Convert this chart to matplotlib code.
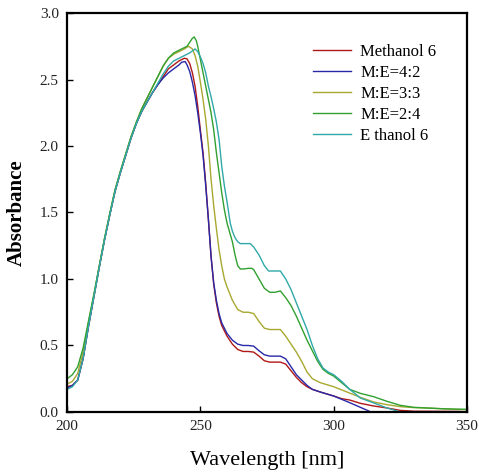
import numpy as np
import matplotlib
matplotlib.use("Agg")
import matplotlib.pyplot as plt

plt.rcParams['font.family'] = ['Liberation Serif', 'DejaVu Serif']

# UV-Vis spectra (wavelength nm, absorbance)
methanol_x = [200, 202, 204, 206, 207, 208, 210, 212, 214, 216, 218, 220, 222, 224, 226, 228, 230, 232, 234, 236, 238,
              240, 242, 244, 245, 246, 247, 248, 249, 250, 251, 252, 253, 254, 255, 256, 257, 258, 260, 262, 264,
              266, 268, 270, 272, 274, 276, 278, 280, 282, 284, 286, 288, 290, 292, 295, 300, 303, 306, 310, 315,
              320, 325, 330, 340, 347, 350]
methanol_y = [0.19, 0.20, 0.24, 0.40, 0.52, 0.64, 0.86, 1.08, 1.29, 1.48, 1.66, 1.80, 1.93, 2.06, 2.17, 2.26, 2.33, 2.40, 2.46, 2.52, 2.58,
              2.61, 2.64, 2.66, 2.655, 2.62, 2.55, 2.45, 2.30, 2.12, 1.95, 1.72, 1.45, 1.17, 0.96, 0.82, 0.72, 0.65, 0.57, 0.51, 0.47,
              0.455, 0.455, 0.45, 0.42, 0.385, 0.375, 0.375, 0.375, 0.36, 0.31, 0.26, 0.22, 0.19, 0.17, 0.15, 0.12, 0.10, 0.09, 0.065, 0.045,
              0.03, 0.012, 0.006, 0.005, 0.004, 0.0]

me42_x = [200, 202, 204, 206, 207, 208, 210, 212, 214, 216, 218, 220, 222, 224, 226, 228, 230, 232, 234, 236, 238,
          240, 242, 243, 244.3, 245, 246, 247, 248, 249, 250, 251, 252, 253, 254, 255, 256, 257, 258, 260, 262, 264,
          266, 268, 270, 272, 274, 276, 278, 280, 282, 284, 286, 288, 290, 292, 295, 300, 303, 306, 310, 314]
me42_y = [0.18, 0.20, 0.24, 0.40, 0.52, 0.64, 0.86, 1.08, 1.29, 1.48, 1.66, 1.80, 1.93, 2.06, 2.17, 2.26, 2.33, 2.40, 2.46, 2.51, 2.55,
          2.58, 2.61, 2.63, 2.635, 2.61, 2.56, 2.48, 2.38, 2.25, 2.10, 1.93, 1.70, 1.45, 1.17, 0.97, 0.84, 0.74, 0.67, 0.59, 0.54, 0.51,
          0.50, 0.50, 0.495, 0.46, 0.43, 0.42, 0.42, 0.42, 0.40, 0.34, 0.28, 0.24, 0.20, 0.17, 0.15, 0.12, 0.095, 0.07, 0.035, 0.0]

me33_x = [200, 202, 204, 206, 208, 210, 212, 214, 216, 218, 220, 222, 224, 226, 228, 230, 232, 234, 236, 238,
          240, 242, 244, 245.6, 247, 248, 249, 250, 251, 252, 253, 254, 255, 256, 257, 258, 259, 260, 262, 264,
          266, 268, 270, 272, 274, 276, 278, 280, 282, 284, 286, 288, 290, 292, 295, 300, 305, 310, 315,
          320, 325, 330, 335, 340, 345, 350]
me33_y = [0.21, 0.23, 0.29, 0.45, 0.67, 0.87, 1.09, 1.30, 1.49, 1.67, 1.81, 1.94, 2.07, 2.18, 2.28, 2.36, 2.44, 2.52, 2.60, 2.66,
          2.69, 2.71, 2.73, 2.75, 2.73, 2.68, 2.60, 2.48, 2.35, 2.20, 2.00, 1.75, 1.55, 1.38, 1.22, 1.10, 1.00, 0.94, 0.84, 0.77,
          0.75, 0.75, 0.74, 0.68, 0.63, 0.62, 0.62, 0.62, 0.57, 0.51, 0.45, 0.38, 0.30, 0.25, 0.22, 0.19, 0.15, 0.11, 0.075,
          0.055, 0.04, 0.033, 0.03, 0.025, 0.02, 0.017]

me24_x = [200, 202, 204, 206, 208, 210, 212, 214, 216, 218, 220, 222, 224, 226, 228, 230, 232, 234, 236, 238,
          240, 242, 244, 245, 246, 247, 247.7, 248.5, 249, 250, 251, 252, 253, 254, 255, 256, 257, 258, 259, 260, 261, 262, 263, 264,
          265, 266, 268, 269.3, 270, 272, 274, 276, 278, 280, 282, 284, 286, 288, 290, 292, 294, 296, 298, 300, 303, 306, 310, 315,
          320, 325, 330, 335, 340, 345, 350]
me24_y = [0.25, 0.28, 0.34, 0.48, 0.68, 0.88, 1.09, 1.30, 1.49, 1.67, 1.81, 1.94, 2.07, 2.18, 2.28, 2.36, 2.44, 2.52, 2.60, 2.66,
          2.70, 2.72, 2.74, 2.75, 2.78, 2.81, 2.82, 2.79, 2.75, 2.65, 2.55, 2.45, 2.35, 2.25, 2.12, 1.95, 1.80, 1.65, 1.52, 1.42, 1.35, 1.28, 1.18, 1.10,
          1.075, 1.075, 1.08, 1.08, 1.07, 1.00, 0.93, 0.90, 0.90, 0.91, 0.86, 0.80, 0.72, 0.63, 0.54, 0.46, 0.38, 0.32, 0.29, 0.27, 0.22, 0.17, 0.14, 0.115,
          0.08, 0.05, 0.035, 0.03, 0.025, 0.022, 0.02]

ethanol_x = [200, 202, 204, 206, 207, 208, 210, 212, 214, 216, 218, 220, 222, 224, 226, 228, 230, 232, 234, 236, 238,
             240, 242, 244, 246, 248, 249, 250, 251, 252, 253, 254, 255, 256, 257, 258, 259, 260, 261.2, 262, 263, 264,
             265, 267, 268.7, 270, 272, 274, 275.6, 278, 280, 282, 284, 286, 288, 290, 292, 294, 296, 298, 300, 303, 306, 310, 315,
             320, 325]
ethanol_y = [0.17, 0.19, 0.24, 0.40, 0.52, 0.64, 0.86, 1.08, 1.29, 1.48, 1.66, 1.80, 1.93, 2.06, 2.17, 2.26, 2.33, 2.40, 2.47, 2.54, 2.60,
             2.64, 2.66, 2.68, 2.70, 2.73, 2.71, 2.67, 2.62, 2.55, 2.45, 2.37, 2.28, 2.18, 2.05, 1.85, 1.70, 1.58, 1.42, 1.36, 1.31, 1.28,
             1.266, 1.266, 1.266, 1.24, 1.18, 1.10, 1.06, 1.06, 1.06, 1.00, 0.92, 0.82, 0.72, 0.62, 0.50, 0.40, 0.33, 0.30, 0.28, 0.23, 0.17, 0.105, 0.068,
             0.03, 0.0]

series = [
    ("Methanol 6", methanol_x, methanol_y, '#b01818'),
    ("M:E=4:2", me42_x, me42_y, '#2828a8'),
    ("M:E=3:3", me33_x, me33_y, '#a8a830'),
    ("M:E=2:4", me24_x, me24_y, '#30a030'),
    ("E thanol 6", ethanol_x, ethanol_y, '#30a8a8'),
]

fig = plt.figure(figsize=(4.79, 4.73), dpi=100)
ax = fig.add_axes([0.140, 0.129, 0.835, 0.8435])

for name, xs, ys, clr in series:
    ax.plot(xs, ys, color=clr, lw=1.0, label=name)

ax.set_xlim(200, 350)
ax.set_ylim(0, 3.0)
ax.set_xticks([200, 250, 300, 350])
ax.set_yticks(np.arange(0, 3.01, 0.5))
ax.yaxis.set_major_formatter(matplotlib.ticker.FormatStrFormatter('%.1f'))
ax.tick_params(direction='in', length=4, width=1, labelsize=11, labelcolor='#222222', pad=6)
for sp in ax.spines.values():
    sp.set_linewidth(1.6)

ax.set_xlabel('Wavelength [nm]', fontsize=16, labelpad=13)
ax.set_ylabel('Absorbance', fontsize=15, fontweight='bold', labelpad=9)

ax.legend(loc='upper left', bbox_to_anchor=(313 / 479, 1 - 44 / 473), bbox_transform=fig.transFigure,
          frameon=False, fontsize=12, handlelength=2.3, handletextpad=0.55, labelspacing=0.3, borderpad=0,
          borderaxespad=0)

fig.savefig('out.png', dpi=100)
